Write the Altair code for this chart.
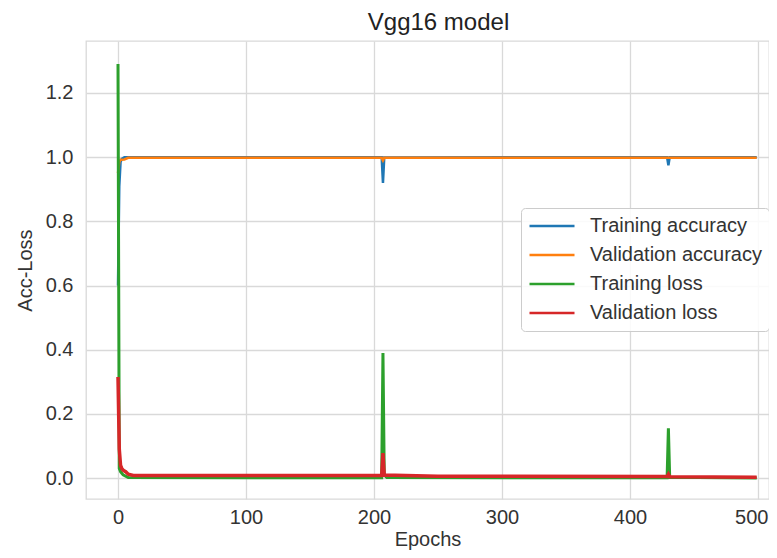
import altair as alt
import pandas as pd

title_text = "Vgg16 model"
x_title = "Epochs"
y_title = "Acc-Loss"
series_names = ["Training accuracy", "Validation accuracy", "Training loss", "Validation loss"]
series_colors = ["#1f77b4", "#ff7f0e", "#2ca02c", "#d62728"]
series_widths = [2.5, 2.5, 3.0, 3.5]

x_ticks = [0, 100, 200, 300, 400, 500]
y_ticks = [0.0, 0.2, 0.4, 0.6, 0.8, 1.0, 1.2]

# key points (epoch, value)
train_acc_epochs = [0, 1, 2, 3, 5, 206, 207, 208, 429, 430, 431, 499]
train_acc_values = [0.60, 0.91, 0.985, 0.995, 1.0, 1.0, 0.92, 0.999, 1.0, 0.975, 1.0, 1.0]

val_acc_epochs = [0, 1, 2, 5, 8, 206, 207, 208, 499]
val_acc_values = [0.95, 0.985, 0.992, 0.993, 0.998, 0.998, 0.99, 0.998, 0.998]

train_loss_epochs = [0, 1, 2, 4, 8, 206, 207, 208, 210, 429, 430, 431, 499]
train_loss_values = [1.29, 0.03, 0.02, 0.01, 0.002, 0.001, 0.39, 0.01, 0.002, 0.001, 0.155, 0.003, 0.0005]

val_loss_epochs = [0, 1, 2, 3, 4, 6, 8, 12, 206, 207, 208, 250, 429, 430, 431, 499]
val_loss_values = [0.315, 0.09, 0.04, 0.03, 0.025, 0.02, 0.012, 0.008, 0.008, 0.078, 0.01, 0.006, 0.005, 0.012, 0.004, 0.003]

all_epochs = [train_acc_epochs, val_acc_epochs, train_loss_epochs, val_loss_epochs]
all_values = [train_acc_values, val_acc_values, train_loss_values, val_loss_values]

rows = []
for name, eps, vals in zip(series_names, all_epochs, all_values):
    for e, v in zip(eps, vals):
        rows.append({"epoch": e, "value": v, "series": name})
df = pd.DataFrame(rows)

FONT = "Liberation Sans"

x_enc = alt.X("epoch:Q",
              scale=alt.Scale(domain=[-25, 508.6], nice=False, zero=False),
              axis=alt.Axis(values=x_ticks, title=x_title, format="d",
                            labelFlush=15, labelFlushOffset=10))
y_enc = alt.Y("value:Q",
              scale=alt.Scale(domain=[-0.065, 1.362], nice=False, zero=False),
              axis=alt.Axis(values=y_ticks, title=y_title, format=".1f"))
color_enc = alt.Color("series:N",
                      scale=alt.Scale(domain=series_names, range=series_colors),
                      legend=alt.Legend(title=None, orient="none", legendX=435, legendY=167,
                                        symbolType="stroke", symbolSize=2025,
                                        symbolStrokeWidth=2.5, labelFontSize=20,
                                        labelFont=FONT, labelColor="#333333",
                                        labelOffset=14, labelLimit=0,
                                        clipHeight=22, rowPadding=7,
                                        fillColor="rgba(255,255,255,0.85)",
                                        strokeColor="#cccccc", cornerRadius=4,
                                        padding=7))

layers = []
for name, w in zip(series_names, series_widths):
    layers.append(
        alt.Chart(df).transform_filter(alt.datum.series == name)
        .mark_line(strokeWidth=w, clip=True)
        .encode(x=x_enc, y=y_enc, color=color_enc, order="epoch:Q")
    )

chart = alt.layer(*layers).properties(
    width=683, height=458,
    title=alt.Title(title_text, font=FONT, fontSize=24, fontWeight="normal",
                    color="#222222", anchor="middle", dx=11, offset=6),
    autosize=alt.AutoSizeParams(type="none"),
    padding={"left": 78, "top": 33, "right": 0, "bottom": 51},
).configure_axis(
    grid=True, gridColor="#d9d9d9", gridWidth=1.3, domain=False, ticks=False,
    labelFont=FONT, labelFontSize=20, labelColor="#333333",
    titleFont=FONT, titleFontSize=20, titleFontWeight="normal", titleColor="#333333",
).configure_axisX(labelPadding=8, titlePadding=2).configure_axisY(
    labelPadding=13, titlePadding=10
).configure_view(stroke="#d9d9d9", strokeWidth=1.3)

chart.save("out.html", embed_options={"renderer": "svg", "actions": False})
